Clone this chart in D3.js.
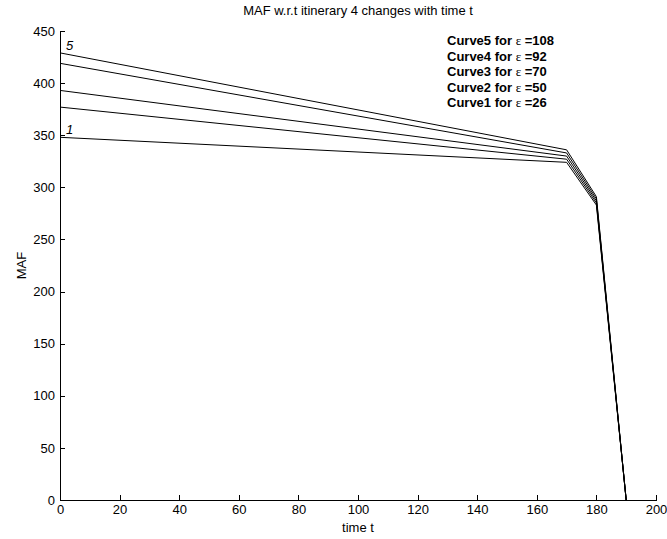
<!DOCTYPE html>
<html>
<head>
<meta charset="utf-8">
<script src="https://cdn.jsdelivr.net/npm/d3@7"></script>
<style>
  body { margin: 0; background: #fff; }
  svg { font-family: "Liberation Sans", Arial, sans-serif; }
  .axis path, .axis line { stroke: #000; shape-rendering: crispEdges; }
  .axis text { font-size: 13px; fill: #000; }
</style>
</head>
<body>
<svg id="chart" width="667" height="539"></svg>
<script>
// time points and MAF values of each curve
var times = [0, 170, 180, 190];
var curve1 = [348, 324, 283, 0];
var curve2 = [377, 327, 285, 0];
var curve3 = [393, 330, 287, 0];
var curve4 = [419, 333, 289, 0];
var curve5 = [429, 336, 291, 0];
var curves = [curve1, curve2, curve3, curve4, curve5];
var epsilons = [26, 50, 70, 92, 108];
var xTicks = d3.range(0, 201, 20);
var yTicks = d3.range(0, 451, 50);

var margin = {left: 60, right: 11, top: 31, bottom: 39};
var width = 667, height = 539;

var svg = d3.select('#chart');

var x = d3.scaleLinear()
    .domain([0, 200])
    .range([margin.left, width - margin.right]);
var y = d3.scaleLinear()
    .domain([0, 450])
    .range([height - margin.bottom, margin.top]);

svg.append('g')
    .attr('class', 'axis')
    .attr('transform', 'translate(0,' + y(0) + ')')
    .call(d3.axisBottom(x).tickValues(xTicks).tickSizeInner(-5).tickSizeOuter(0).tickPadding(5));

svg.append('g')
    .attr('class', 'axis')
    .attr('transform', 'translate(' + x(0) + ',0)')
    .call(d3.axisLeft(y).tickValues(yTicks).tickSizeInner(-5).tickSizeOuter(0).tickPadding(5));

var line = d3.line()
    .x(function(d, i) { return x(times[i]); })
    .y(function(d) { return y(d); });

svg.append('g').selectAll('path')
    .data(curves)
    .enter().append('path')
    .attr('d', function(d) { return line(d); })
    .attr('fill', 'none')
    .attr('stroke', '#000')
    .attr('stroke-width', 1);

// curve numbers next to the first and last curve
svg.append('text')
    .attr('x', x(0) + 6)
    .attr('y', y(curve5[0]) - 3)
    .style('font-size', '13px')
    .style('font-style', 'italic')
    .text('5');
svg.append('text')
    .attr('x', x(0) + 6)
    .attr('y', y(curve1[0]) - 3)
    .style('font-size', '13px')
    .style('font-style', 'italic')
    .text('1');

// legend text, top-right
var legend = svg.append('g');
var rows = legend.selectAll('text')
    .data(epsilons.slice().reverse())
    .enter().append('text')
    .attr('x', 447)
    .attr('y', function(d, i) { return 45 + i * 15.5; })
    .style('font-size', '13px')
    .style('font-weight', 'bold');
rows.append('tspan').text(function(d, i) { return 'Curve' + (5 - i) + ' for '; });
rows.append('tspan')
    .style('font-family', '"Liberation Serif", "Times New Roman", serif')
    .style('font-weight', 'normal')
    .text('\u03b5');
rows.append('tspan').text(function(d) { return ' =' + d; });

svg.append('text')
    .attr('x', (x(0) + x(200)) / 2)
    .attr('y', 15)
    .attr('text-anchor', 'middle')
    .style('font-size', '13px')
    .text('MAF w.r.t itinerary 4 changes with time t');

svg.append('text')
    .attr('x', (x(0) + x(200)) / 2)
    .attr('y', 532)
    .attr('text-anchor', 'middle')
    .style('font-size', '13px')
    .text('time t');

svg.append('text')
    .attr('transform', 'translate(26,' + y(225) + ') rotate(-90)')
    .attr('text-anchor', 'middle')
    .style('font-size', '13px')
    .text('MAF');
</script>
</body>
</html>
